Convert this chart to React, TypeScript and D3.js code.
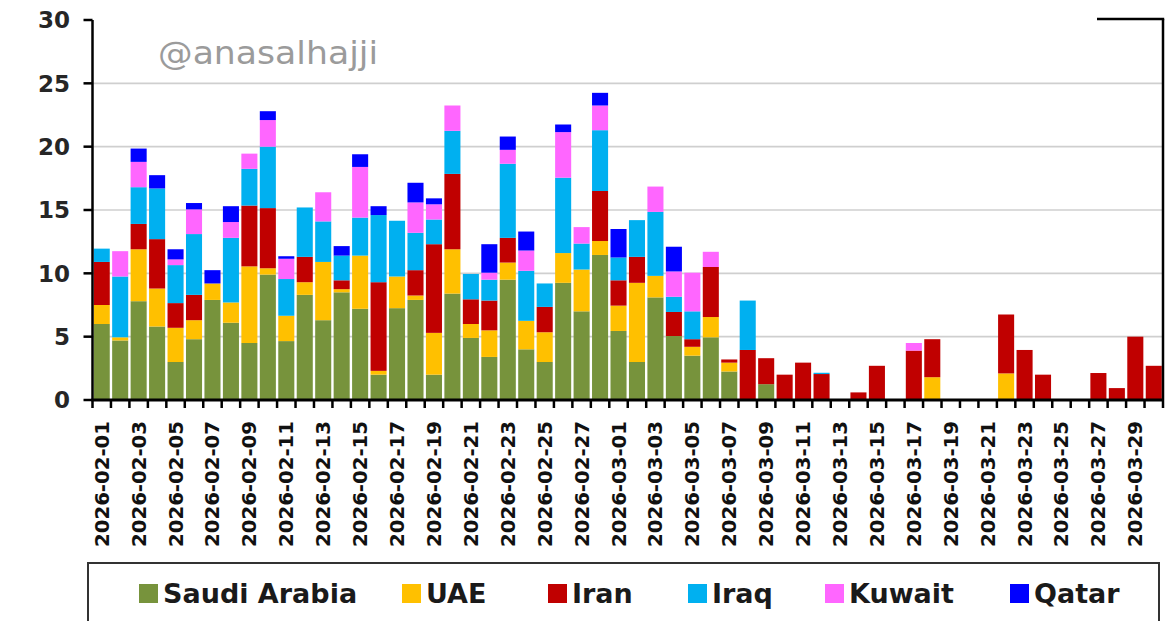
import React from "react";
import * as d3 from "d3";

const dates = [
  "2026-02-01","2026-02-02","2026-02-03","2026-02-04","2026-02-05","2026-02-06","2026-02-07",
  "2026-02-08","2026-02-09","2026-02-10","2026-02-11","2026-02-12","2026-02-13","2026-02-14",
  "2026-02-15","2026-02-16","2026-02-17","2026-02-18","2026-02-19","2026-02-20","2026-02-21",
  "2026-02-22","2026-02-23","2026-02-24","2026-02-25","2026-02-26","2026-02-27","2026-02-28",
  "2026-03-01","2026-03-02","2026-03-03","2026-03-04","2026-03-05","2026-03-06","2026-03-07",
  "2026-03-08","2026-03-09","2026-03-10","2026-03-11","2026-03-12","2026-03-13","2026-03-14",
  "2026-03-15","2026-03-16","2026-03-17","2026-03-18","2026-03-19","2026-03-20","2026-03-21",
  "2026-03-22","2026-03-23","2026-03-24","2026-03-25","2026-03-26","2026-03-27","2026-03-28",
  "2026-03-29","2026-03-30",
];

const saudiArabia = [
  6.0, 4.7, 7.8, 5.8, 3.0, 4.8, 7.9, 6.1, 4.5, 9.9, 4.65, 8.3, 6.3, 8.5,
  7.2, 2.0, 7.25, 7.9, 2.0, 8.4, 4.9, 3.4, 9.5, 4.0, 3.0, 9.25, 7.0, 11.45,
  5.45, 3.0, 8.1, 5.05, 3.5, 4.95, 2.25, 0, 1.25, 0, 0, 0, 0, 0,
  0, 0, 0, 0, 0, 0, 0, 0, 0, 0, 0, 0, 0, 0, 0, 0,
];
const uae = [
  1.5, 0.25, 4.1, 3.0, 2.7, 1.5, 1.3, 1.6, 6.05, 0.5, 2.0, 1.0, 4.6, 0.25,
  4.2, 0.3, 2.5, 0.35, 3.3, 3.5, 1.1, 2.1, 1.35, 2.25, 2.35, 2.35, 3.3, 1.1,
  2.0, 6.25, 1.7, 0, 0.7, 1.6, 0.7, 0, 0, 0, 0, 0, 0, 0,
  0, 0, 0, 1.8, 0, 0, 0, 2.1, 0, 0, 0, 0, 0, 0, 0, 0,
];
const iran = [
  3.4, 0, 2.0, 3.9, 1.95, 2.0, 0, 0, 4.8, 4.75, 0, 2.0, 0, 0.7,
  0, 7.0, 0, 2.0, 7.0, 5.95, 1.95, 2.35, 1.95, 0, 2.0, 0, 0, 3.95,
  2.0, 2.05, 0, 1.9, 0.6, 3.95, 0.25, 3.95, 2.05, 2.0, 2.95, 2.05, 0, 0.6,
  2.7, 0, 3.9, 3.0, 0, 0, 0, 4.65, 3.95, 2.0, 0, 0, 2.13, 0.94, 5.0, 2.7,
];
const iraq = [
  1.05, 4.8, 2.9, 4.0, 3.0, 4.8, 0, 5.1, 2.9, 4.85, 2.9, 3.9, 3.2, 1.95,
  3.0, 5.3, 4.4, 2.95, 1.95, 3.4, 2.0, 1.65, 5.85, 3.95, 1.85, 5.95, 2.05, 4.8,
  1.8, 2.9, 5.05, 1.2, 2.2, 0, 0, 3.9, 0, 0, 0, 0.1, 0, 0,
  0, 0, 0, 0, 0, 0, 0, 0, 0, 0, 0, 0, 0, 0, 0, 0,
];
const kuwait = [
  0, 2.0, 2.0, 0, 0.45, 1.95, 0, 1.25, 1.2, 2.1, 1.6, 0, 2.3, 0,
  4.0, 0, 0, 2.4, 1.2, 2.0, 0, 0.55, 1.1, 1.6, 0, 3.6, 1.3, 1.95,
  0, 0, 2.0, 2.0, 3.05, 1.2, 0, 0, 0, 0, 0, 0, 0, 0,
  0, 0, 0.6, 0, 0, 0, 0, 0, 0, 0, 0, 0, 0, 0, 0, 0,
];
const qatar = [
  0, 0, 1.05, 1.05, 0.8, 0.5, 1.05, 1.25, 0, 0.7, 0.2, 0, 0, 0.75,
  1.0, 0.7, 0, 1.55, 0.47, 0, 0, 2.25, 1.05, 1.5, 0, 0.6, 0, 1.0,
  2.25, 0, 0, 1.95, 0, 0, 0, 0, 0, 0, 0, 0, 0, 0,
  0, 0, 0, 0, 0, 0, 0, 0, 0, 0, 0, 0, 0, 0, 0, 0,
];

const seriesNames = ["Saudi Arabia", "UAE", "Iran", "Iraq", "Kuwait", "Qatar"];
const seriesValues = [saudiArabia, uae, iran, iraq, kuwait, qatar];
const seriesColors = ["#77933C", "#FFC000", "#C00000", "#00B0F0", "#FF66FF", "#0000FF"];
const yTicks = [0, 5, 10, 15, 20, 25, 30];
const watermark = "@anasalhajji";

export default function App() {
  const W = 1165;
  const H = 621;
  const left = 92.5;
  const right = 1163;
  const top = 20;
  const bottom = 400;

  const x = d3
    .scaleBand<string>()
    .domain(dates)
    .range([left, right])
    .paddingInner(0.13)
    .paddingOuter(0.065);
  const y = d3.scaleLinear().domain([0, 30]).range([bottom, top]);

  const rows = dates.map((d, i) => {
    const r: Record<string, any> = { date: d };
    seriesNames.forEach((n, k) => (r[n] = seriesValues[k][i]));
    return r;
  });
  const stacked = d3.stack<any>().keys(seriesNames)(rows);

  const step = x.step();
  const boundaries = d3.range(dates.length + 1).map((k) => left + k * step);
  const labelDates = dates.filter((_, i) => i % 2 === 0);

  const legendSquareX = [139, 402, 548, 688, 825, 1010];
  const font = "'DejaVu Sans', 'Liberation Sans', Arial, sans-serif";

  return (
    <svg
      width={W}
      height={H}
      style={{ position: "absolute", left: 0, top: 0, background: "#fff" }}
      fontFamily={font}
    >
      <rect x={0} y={0} width={W} height={H} fill="#fff" />
      {/* gridlines */}
      {yTicks
        .filter((t) => t > 0 && t < 30)
        .map((t) => (
          <line key={"g" + t} x1={left} x2={right} y1={y(t)} y2={y(t)} stroke="#cfcfcf" strokeWidth={1.6} />
        ))}
      {/* watermark */}
      <text x={158} y={64} fontSize={32} fill="#9b9b9b" textLength={220} lengthAdjust="spacingAndGlyphs">
        {watermark}
      </text>
      {/* bars */}
      {stacked.map((s, k) => (
        <g key={s.key} fill={seriesColors[k]}>
          {s.map((d, i) =>
            d[1] - d[0] > 0 ? (
              <rect
                key={i}
                x={x(dates[i])}
                y={y(d[1])}
                width={x.bandwidth()}
                height={y(d[0]) - y(d[1])}
              />
            ) : null
          )}
        </g>
      ))}
      {/* y axis */}
      <line x1={left} x2={left} y1={top} y2={bottom + 1} stroke="#000" strokeWidth={2.5} />
      {yTicks.map((t) => (
        <g key={"y" + t}>
          <line x1={left - 9} x2={left} y1={y(t)} y2={y(t)} stroke="#000" strokeWidth={2.5} />
          <text x={70} y={y(t)} dy="0.36em" textAnchor="end" fontSize={23} fontWeight="bold" fill="#262626">
            {t}
          </text>
        </g>
      ))}
      {/* right and top border */}
      <line x1={right} x2={right} y1={top - 1} y2={bottom} stroke="#000" strokeWidth={2.5} />
      <line x1={1097} x2={right + 1.2} y1={top - 1} y2={top - 1} stroke="#000" strokeWidth={2.5} />
      {/* x axis */}
      <line x1={left - 1} x2={right + 1} y1={bottom} y2={bottom} stroke="#000" strokeWidth={3} />
      {boundaries.map((bx, k) => (
        <line key={"t" + k} x1={bx} x2={bx} y1={bottom} y2={bottom + 8} stroke="#000" strokeWidth={2.5} />
      ))}
      {labelDates.map((d) => {
        const cx = (x(d) as number) + x.bandwidth() / 2;
        return (
          <text
            key={"l" + d}
            transform={`translate(${cx + 7},${421}) rotate(-90)`}
            textAnchor="end"
            fontSize={19}
            fontWeight="bold"
            fill="#111"
            textLength={126}
            lengthAdjust="spacingAndGlyphs"
          >
            {d}
          </text>
        );
      })}
      {/* legend */}
      <rect x={88} y={563} width={1071} height={80} fill="#fff" stroke="#333" strokeWidth={2} />
      {seriesNames.map((n, k) => (
        <g key={"lg" + n}>
          <rect x={legendSquareX[k]} y={584} width={19} height={19} fill={seriesColors[k]} />
          <text x={legendSquareX[k] + 24} y={603} fontSize={27} fontWeight="bold" fill="#1a1a1a">
            {n}
          </text>
        </g>
      ))}
    </svg>
  );
}
